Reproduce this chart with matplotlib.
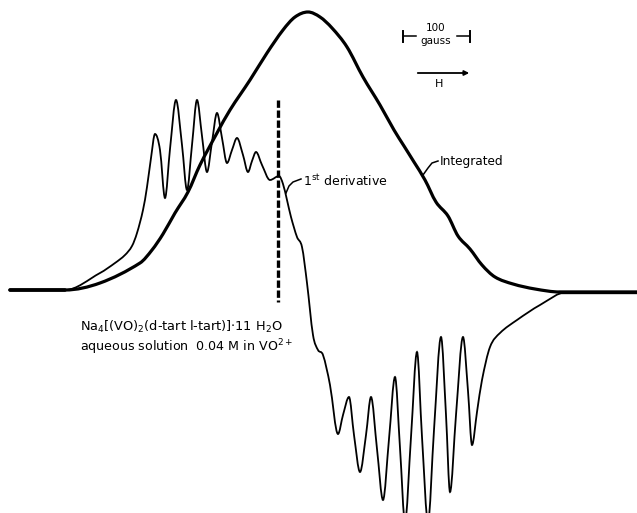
import numpy as np
import matplotlib
matplotlib.use("Agg")
import matplotlib.pyplot as plt
from matplotlib.path import Path
from matplotlib.patches import PathPatch

# ---- data (field position, signal position; screen units) ----
deriv_field = [10, 65, 100, 115, 125, 132, 137, 143, 147, 151, 155, 160, 165, 170, 176, 182, 187,
               192, 197, 202, 207, 212, 217, 222, 227, 232, 237, 243, 248, 252, 256, 262, 270,
               279, 283, 287, 291, 297, 302, 307, 313, 318, 323, 330, 338, 343, 349,
               354, 360, 366, 371, 377, 383, 389, 395, 400, 405, 411, 417, 422, 428, 434,
               441, 446, 450, 456, 463, 468, 472, 477, 482, 490, 500, 517, 540, 567, 600, 637]
deriv_signal = [290, 290, 273, 263, 255, 246, 233, 210, 187, 158, 134, 150, 198, 149, 100, 145, 190,
                145, 100, 136, 172, 142, 113, 138, 163, 150, 138, 155, 172, 161, 152, 165, 180,
                176, 184, 200, 217, 237, 247, 283, 335, 350, 355, 385, 434, 415, 397,
                435, 472, 435, 397, 449, 500, 439, 377, 448, 522, 437, 352, 437, 522, 430,
                337, 415, 492, 415, 337, 391, 445, 412, 380, 347, 333, 320, 305, 292, 292, 292]

integ_field = [10, 65, 100, 140, 152, 163, 175, 188, 200, 217, 230, 250, 267, 283, 295, 308,
               320, 332, 347, 363, 380, 394, 404, 414, 425, 436, 448, 458, 470, 482, 495, 513,
               535, 560, 600, 637]
integ_signal = [290, 290, 283, 263, 250, 234, 213, 192, 165, 133, 110, 80, 53, 30, 17, 12,
                17, 28, 47, 77, 105, 130, 146, 162, 180, 202, 216, 236, 249, 265, 277, 284,
                289, 292, 292, 292]

marker_field = 278
marker_range = (100, 302)


def smooth_path(xs, ys):
    """Cubic Hermite curve through the points (flat at local extrema), as Bezier segments."""
    x = np.asarray(xs, float)
    y = np.asarray(ys, float)
    n = len(x)
    m = np.zeros(n)
    for i in range(1, n - 1):
        d0 = (y[i] - y[i - 1]) / (x[i] - x[i - 1])
        d1 = (y[i + 1] - y[i]) / (x[i + 1] - x[i])
        if d0 * d1 <= 0:
            m[i] = 0.0
        else:
            m[i] = (y[i + 1] - y[i - 1]) / (x[i + 1] - x[i - 1])
            lim = 3 * min(abs(d0), abs(d1))
            if abs(m[i]) > lim:
                m[i] = np.sign(m[i]) * lim
    verts = [(x[0], y[0])]
    codes = [Path.MOVETO]
    for i in range(n - 1):
        h = x[i + 1] - x[i]
        verts += [(x[i] + h / 3, y[i] + m[i] * h / 3),
                  (x[i + 1] - h / 3, y[i + 1] - m[i + 1] * h / 3),
                  (x[i + 1], y[i + 1])]
        codes += [Path.CURVE4] * 3
    return Path(verts, codes)


fig = plt.figure(figsize=(6.37, 5.13), dpi=100)
ax = fig.add_axes([0, 0, 1, 1])
ax.set_xlim(0, 637)
ax.set_ylim(513, 0)
ax.axis("off")

ax.add_patch(PathPatch(smooth_path(deriv_field, deriv_signal), fill=False,
                       lw=1.3, edgecolor="black", capstyle="round"))
ax.add_patch(PathPatch(smooth_path(integ_field, integ_signal), fill=False,
                       lw=2.3, edgecolor="black", capstyle="round"))
# thick baseline ends
ax.plot([10, 65], [290, 290], color="black", lw=2.6, solid_capstyle="round")
ax.plot([560, 637], [292, 292], color="black", lw=2.4)

# vertical dashed marker
ax.plot([marker_field, marker_field], marker_range, color="black", lw=2.4,
        ls=(0, (2.2, 0.8)))

font = dict(family="DejaVu Sans", color="black")

# labels with leaders
ax.plot([286, 289, 293, 301], [193, 186, 182, 179], color="black", lw=1.1)
ax.text(303, 181, "1$^{\\rm st}$ derivative", fontsize=9, va="center", ha="left", **font)
ax.plot([423, 428, 432, 438], [175, 168, 163, 161], color="black", lw=1.1)
ax.text(440, 161, "Integrated", fontsize=8.7, va="center", ha="left", **font)

# scale bar
ax.plot([403, 403], [31, 42], color="black", lw=1.4)
ax.plot([470, 470], [31, 42], color="black", lw=1.4)
ax.plot([404, 416], [36, 36], color="black", lw=1.1)
ax.plot([457, 469], [36, 36], color="black", lw=1.1)
ax.text(436, 28, "100", fontsize=7.5, ha="center", va="center", **font)
ax.text(436, 41, "gauss", fontsize=7.5, ha="center", va="center", **font)
ax.annotate("", xy=(472, 73), xytext=(415, 73),
            arrowprops=dict(arrowstyle="-|>", color="black", lw=1.3,
                            mutation_scale=7))
ax.text(439, 84, "H", fontsize=8, ha="center", va="center", **font)

# sample description
ax.text(80, 327, "Na$_4$[(VO)$_2$(d-tart l-tart)]$\\cdot$11 H$_2$O", fontsize=9.3,
        ha="left", va="center", **font)
ax.text(80, 347, "aqueous solution  0.04 M in VO$^{2+}$", fontsize=9.1,
        ha="left", va="center", **font)

fig.savefig("out.png", dpi=100)
